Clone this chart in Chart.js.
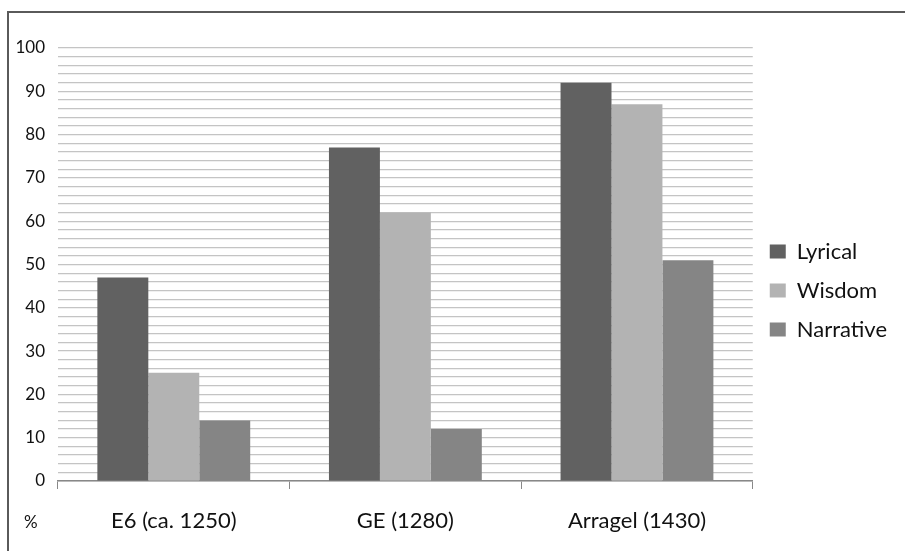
<!DOCTYPE html>
<html>
<head>
<meta charset="utf-8">
<script src="https://cdn.jsdelivr.net/npm/chart.js@4"></script>
<style>
  html, body { margin: 0; padding: 0; background: #fff; }
  #wrap { position: relative; width: 905px; height: 551px; }
  #frame { position: absolute; left: 7px; top: 11px; right: 0; bottom: 0;
           border-top: 2px solid #5a5a5a; border-left: 2px solid #5a5a5a; pointer-events: none; }
</style>
</head>
<body>
<div id="wrap">
  <canvas id="chart" width="905" height="551"></canvas>
  <div id="frame"></div>
</div>
<script>
// categories and series
var categories = ['E6 (ca. 1250)', 'GE (1280)', 'Arragel (1430)'];
var lyrical = [47, 77, 92];
var wisdom = [25, 62, 87];
var narrative = [14, 12, 51];
var seriesNames = ['Lyrical', 'Wisdom', 'Narrative'];
var seriesColors = ['#616161', '#b3b3b3', '#858585'];
var yMin = 0, yMax = 100, yStep = 2, yLabelStep = 10;
var unitLabel = '%';

var fontFamily = 'Lato, "Open Sans", sans-serif';

// draws the "%" to the left of the category labels
var unitPlugin = {
  id: 'unitLabel',
  afterLayout: function(chart) {
    // legend sits a bit higher than centred in the original
    if (chart.legend) {
      chart.legend.top -= 9;
      chart.legend.bottom -= 9;
    }
  },
  afterDraw: function(chart) {
    var ctx = chart.ctx;
    ctx.save();
    ctx.fillStyle = '#111';
    ctx.font = '17px ' + fontFamily;
    ctx.textAlign = 'left';
    ctx.textBaseline = 'middle';
    ctx.fillText(unitLabel, 24, 523);
    ctx.restore();
  }
};

var datasets = [lyrical, wisdom, narrative].map(function(vals, i) {
  return {
    label: seriesNames[i],
    data: vals,
    backgroundColor: seriesColors[i],
    borderWidth: 0,
    categoryPercentage: 0.66,
    barPercentage: 1.0
  };
});

new Chart(document.getElementById('chart'), {
  type: 'bar',
  data: { labels: categories, datasets: datasets },
  plugins: [unitPlugin],
  options: {
    responsive: false,
    animation: false,
    layout: { padding: { top: 48, left: 0, right: 8, bottom: 0 } },
    plugins: {
      tooltip: { enabled: false },
      legend: {
        position: 'right',
        labels: {
          color: '#111',
          font: { family: fontFamily, size: 22 },
          boxWidth: 16,
          boxHeight: 14,
          padding: 17
        }
      }
    },
    scales: {
      x: {
        afterFit: function(scale) { scale.height = 70; },
        grid: {
          offset: true,
          drawOnChartArea: false,
          color: '#888',
          tickLength: 8
        },
        border: { color: '#888', width: 1.5 },
        ticks: {
          color: '#111',
          font: { family: fontFamily, size: 22 },
          padding: 19
        }
      },
      y: {
        min: yMin,
        max: yMax,
        afterFit: function(scale) { scale.width = 58; },
        grid: { color: '#c4c4c4', lineWidth: 1.2, drawTicks: false },
        border: { display: false },
        ticks: {
          stepSize: yStep,
          autoSkip: false,
          color: '#111',
          font: { family: fontFamily, size: 17 },
          padding: 13,
          callback: function(v) { return v % yLabelStep === 0 ? v : ''; }
        }
      }
    }
  }
});
</script>
</body>
</html>
